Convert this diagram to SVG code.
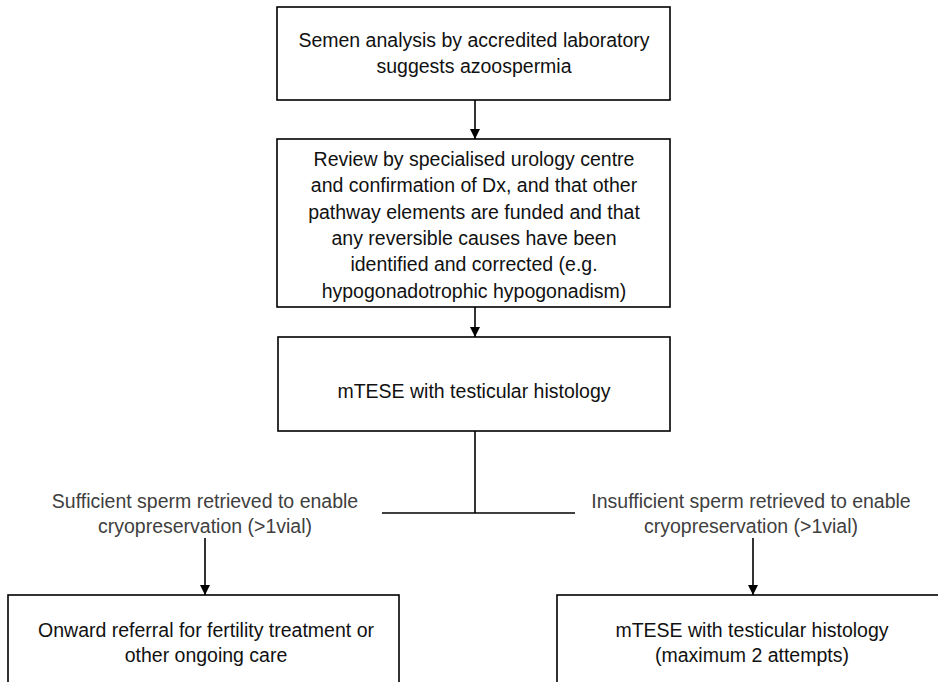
<svg xmlns="http://www.w3.org/2000/svg" width="938" height="682" viewBox="0 0 938 682">
<style>
  .box { fill: #ffffff; stroke: #000000; stroke-width: 1.6; }
  .t { font-family: "Liberation Sans", Arial, sans-serif; font-size: 19.5px; fill: #111111; text-anchor: middle; }
  .lbl { font-family: "Liberation Sans", Arial, sans-serif; font-size: 19.5px; fill: #404040; text-anchor: middle; }
  .ln { stroke: #000000; stroke-width: 1.6; fill: none; }
</style>
<defs>
  <marker id="arr" viewBox="0 0 10 10" refX="10" refY="5" markerWidth="10" markerHeight="10" markerUnits="userSpaceOnUse" orient="auto">
    <path d="M0,0 L10,5 L0,10 Z" fill="#000000"/>
  </marker>
</defs>
<rect width="938" height="682" fill="#ffffff"/>
<g id="connectors">
  <line class="ln" x1="475" y1="100" x2="475" y2="139" marker-end="url(#arr)"/>
  <line class="ln" x1="475" y1="307" x2="475" y2="337" marker-end="url(#arr)"/>
  <line class="ln" x1="475" y1="431" x2="475" y2="513"/>
  <line class="ln" x1="382" y1="513" x2="575" y2="513"/>
  <line class="ln" x1="205" y1="538" x2="205" y2="595" marker-end="url(#arr)"/>
  <line class="ln" x1="753" y1="538" x2="753" y2="595" marker-end="url(#arr)"/>
</g>
<g id="node-semen">
  <rect class="box" x="277" y="7" width="393" height="93"/>
  <text class="t" x="474" y="47">Semen analysis by accredited laboratory</text>
  <text class="t" x="474" y="73">suggests azoospermia</text>
</g>
<g id="node-review">
  <rect class="box" x="277" y="139" width="393" height="168"/>
  <text class="t" x="474" y="166">Review by specialised urology centre</text>
  <text class="t" x="474" y="192">and confirmation of Dx, and that other</text>
  <text class="t" x="474" y="219">pathway elements are funded and that</text>
  <text class="t" x="474" y="245">any reversible causes have been</text>
  <text class="t" x="474" y="271">identified and corrected (e.g.</text>
  <text class="t" x="474" y="298">hypogonadotrophic hypogonadism)</text>
</g>
<g id="node-mtese">
  <rect class="box" x="278" y="337" width="392" height="94"/>
  <text class="t" x="474" y="398">mTESE with testicular histology</text>
</g>
<g id="label-sufficient">
  <text class="lbl" x="205" y="508">Sufficient sperm retrieved to enable</text>
  <text class="lbl" x="205" y="533">cryopreservation (&gt;1vial)</text>
</g>
<g id="label-insufficient">
  <text class="lbl" x="751" y="508">Insufficient sperm retrieved to enable</text>
  <text class="lbl" x="751" y="533">cryopreservation (&gt;1vial)</text>
</g>
<g id="node-onward">
  <rect class="box" x="8" y="595" width="391" height="100"/>
  <text class="t" x="206" y="637">Onward referral for fertility treatment or</text>
  <text class="t" x="206" y="662">other ongoing care</text>
</g>
<g id="node-mtese2">
  <rect class="box" x="557" y="595" width="400" height="100"/>
  <text class="t" x="752" y="637">mTESE with testicular histology</text>
  <text class="t" x="752" y="662">(maximum 2 attempts)</text>
</g>
</svg>
